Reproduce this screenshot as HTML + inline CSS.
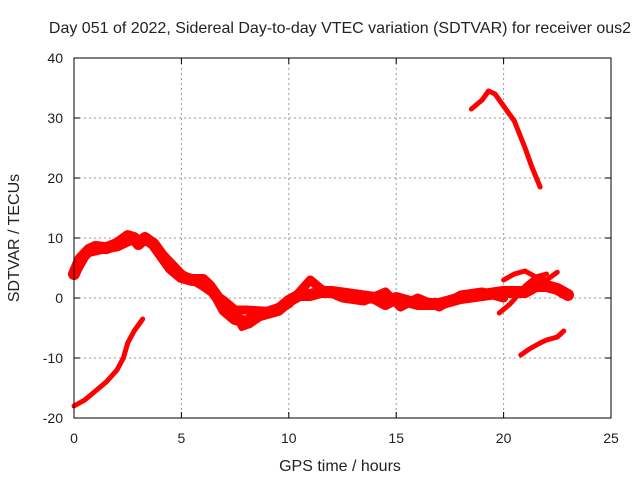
<!DOCTYPE html>
<html><head><meta charset="utf-8"><style>
body{margin:0;background:#fff;font-family:"Liberation Sans",sans-serif;}
svg text{font-family:"Liberation Sans",sans-serif;font-size:14px;fill:#222;}
svg text.big{font-size:16px;}
</style></head><body>
<svg width="640" height="480" id="c">
<text class="big" x="340" y="33" text-anchor="middle">Day 051 of 2022, Sidereal Day-to-day VTEC variation (SDTVAR) for receiver ous2</text>
<text class="big" x="340" y="471" text-anchor="middle">GPS time / hours</text>
<text class="big" transform="translate(19,238) rotate(-90)" text-anchor="middle">SDTVAR / TECUs</text>
<g id="grid"></g><g id="series"></g>
<rect x="74" y="58" width="537" height="360" fill="none" stroke="#000"/>
</svg>
<script>
const xTicks=[0,5,10,15,20,25];
const yTicks=[-20,-10,0,10,20,30,40];
const main1=[[0,4],[0.3,6.5],[0.7,8],[1,8.5],[1.5,8.3],[2,9],[2.5,10.3],[2.8,10],[3,9],[3.3,10],[3.7,9],[4,7.5],[4.5,5],[5,3.5],[5.5,3],[6,3],[6.3,2],[6.7,0],[7,-2],[7.5,-3.5],[8,-4],[8.5,-3],[9,-2.5],[9.5,-2],[10,-0.5],[10.5,0.5],[11,0.5],[11.5,1],[12,1],[13,0.5],[14,0],[14.5,-1],[15,0],[15.5,-0.5],[16,-1],[17,-1],[17.5,-0.5],[18,0],[19,0.5],[20,1],[21,1],[21.5,2],[22,2],[22.5,1.5],[23,0.5]];
const main2=[[0.2,5],[0.6,7.5],[1.2,8],[2,8.5],[2.6,9.5],[3.5,9.5],[4.2,7],[5,4],[6,2],[7,-0.5],[7.5,-2],[8,-2],[9,-2.2],[10,-1],[11,3],[11.5,1.5],[12.5,0],[13.5,-0.5],[14.5,1],[15.2,-1.5],[16,0],[17,-1.5],[18,0.5],[19,1],[20,0]];
const lowA=[[6.5,1],[7,-1],[7.5,-3],[7.8,-5],[8.2,-4.5],[8.8,-3],[9.3,-2.5]];
const s2=[[0,-18],[0.5,-17],[1,-15.5],[1.5,-14],[2,-12],[2.3,-10],[2.5,-7.5],[2.8,-5.5],[3.2,-3.5]];
const s3=[[18.5,31.5],[19,33],[19.3,34.5],[19.6,34],[20,32],[20.5,29.5],[21,25],[21.3,22],[21.7,18.5]];
const s4=[[20.8,-9.5],[21.2,-8.5],[21.7,-7.5],[22,-7],[22.5,-6.5],[22.8,-5.5]];
const s5=[[19.8,-2.5],[20.3,-1],[20.8,1],[21,2],[21.5,3.5],[22,4]];
const s6=[[20,3],[20.5,4],[21,4.5],[21.5,3.5],[22,3],[22.5,4.3]];
const X=v=>74+v*537/25, Y=v=>418-(v+20)*6;
const svg=document.getElementById('c'),g=document.getElementById('grid'),sg=document.getElementById('series');
const NS='http://www.w3.org/2000/svg';
function mk(t,a,p){const e=document.createElementNS(NS,t);for(const k in a)e.setAttribute(k,a[k]);p.appendChild(e);return e;}
xTicks.forEach(t=>{
 if(t>0&&t<25){const l=mk('line',{x1:X(t),x2:X(t),y1:58,y2:418,stroke:'#999','stroke-dasharray':'2,3'},g);
 
 }
 mk('line',{x1:X(t),x2:X(t),y1:418,y2:412,stroke:'#000'},g);mk('line',{x1:X(t),x2:X(t),y1:58,y2:64,stroke:'#000'},g);
 const tx=mk('text',{x:X(t),y:443,'text-anchor':'middle'},g);tx.textContent=t;
 
 
});
yTicks.forEach(t=>{
 if(t>-20&&t<40){const l=mk('line',{x1:74,x2:611,y1:Y(t),y2:Y(t),stroke:'#999','stroke-dasharray':'2,3'},g);
 
 }
 mk('line',{x1:74,x2:80,y1:Y(t),y2:Y(t),stroke:'#000'},g);mk('line',{x1:611,x2:605,y1:Y(t),y2:Y(t),stroke:'#000'},g);
 const tx=mk('text',{x:63,y:Y(t)+5,'text-anchor':'end'},g);tx.textContent=t;
 
 
});
[[main1,12],[main2,9],[lowA,6],[s2,5],[s3,5],[s4,5],[s5,5],[s6,5]].forEach(([d,w],i)=>{
 const p=mk('polyline',{points:d.map(q=>X(q[0])+','+Y(q[1])).join(' '),fill:'none',stroke:'#f00','stroke-width':w,'stroke-linejoin':'round','stroke-linecap':'round'},sg);
 
 
});
</script>
</body></html>
